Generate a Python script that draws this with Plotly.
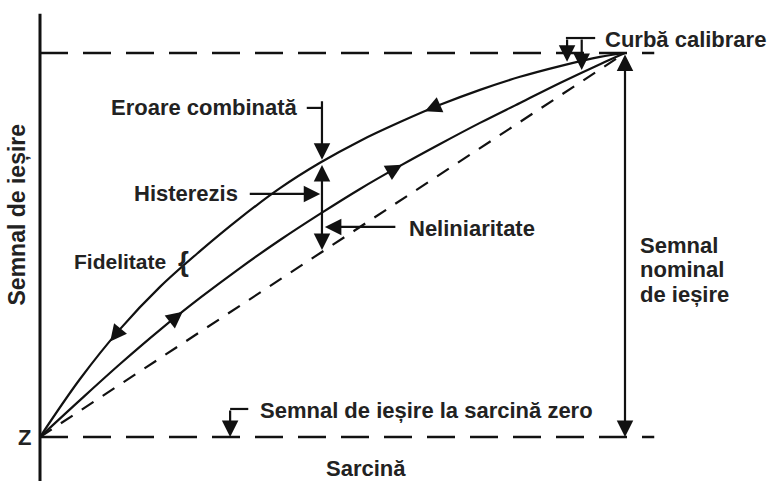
import plotly.graph_objects as go

# --- Data (normalised: load fraction, output fraction) ---
load_grid = [0.0, 0.0684, 0.1368, 0.2051, 0.2735, 0.3419, 0.4103, 0.4786,
             0.5470, 0.6154, 0.6838, 0.7521, 0.8205, 0.8889, 0.9573, 1.0]
# loading (ascending) branch
out_up = [0.0, 0.096, 0.190, 0.279, 0.362, 0.440, 0.513, 0.581,
          0.646, 0.706, 0.763, 0.818, 0.870, 0.922, 0.971, 1.0]
# unloading (descending) branch
out_down = [0.0, 0.151, 0.281, 0.391, 0.484, 0.570, 0.648, 0.714,
            0.771, 0.820, 0.865, 0.904, 0.938, 0.966, 0.990, 1.0]

load_lin = [0.0, 1.0]
out_lin = [0.0, 1.0]

ref_x = [0.0, 1.05]
zero_y = [0.0, 0.0]
full_y = [1.0, 1.0]

FONT = "Liberation Sans, Arial, sans-serif"
TXT = "#222222"
INK = "#111111"

fig = go.Figure()

# reference dashed lines
fig.add_trace(go.Scatter(x=ref_x, y=full_y, mode="lines",
                         line=dict(color=INK, width=2.5, dash="28px,15px")))
fig.add_trace(go.Scatter(x=ref_x, y=zero_y, mode="lines",
                         line=dict(color=INK, width=2.5, dash="28px,15px")))
fig.add_trace(go.Scatter(x=load_lin, y=out_lin, mode="lines",
                         line=dict(color=INK, width=2.2, dash="14px,11px")))
# calibration curves
fig.add_trace(go.Scatter(x=load_grid, y=out_up, mode="lines",
                         line=dict(color=INK, width=2.2, shape="spline", smoothing=1.0)))
fig.add_trace(go.Scatter(x=load_grid, y=out_down, mode="lines",
                         line=dict(color=INK, width=2.2, shape="spline", smoothing=1.0)))

shapes = []
def seg(x0, y0, x1, y1, w=2.2):
    shapes.append(dict(type="line", xref="x", yref="y", x0=x0, y0=y0, x1=x1, y1=y1,
                       line=dict(color=INK, width=w)))

# vertical axis line
seg(0.0, -0.13, 0.0, 1.102, w=3)
# leaders
seg(0.456, 0.857, 0.482, 0.857)        # Eroare combinata
seg(0.899, 1.039, 0.949, 1.039)        # Curba calibrare
seg(0.325, 0.073, 0.356, 0.073)        # Semnal zero

ann = []
def arrow(x, y, ax, ay, both=False):
    ann.append(dict(x=x, y=y, ax=ax, ay=ay, xref="x", yref="y", axref="x", ayref="y",
                    text="", showarrow=True, arrowhead=2, arrowsize=1.5, arrowwidth=2.2,
                    arrowcolor=INK, standoff=0, startstandoff=0,
                    arrowside="end+start" if both else "end",
                    startarrowhead=2, startarrowsize=1.5))

# direction arrows on curves
arrow(0.120, 0.249, 0.1368, 0.281)
arrow(0.658, 0.848, 0.682, 0.864)
arrow(0.244, 0.326, 0.224, 0.302)
arrow(0.619, 0.709, 0.595, 0.688)
# explanatory arrows
arrow(0.482, 0.722, 0.482, 0.878)             # Eroare combinata
arrow(0.482, 0.487, 0.482, 0.712, both=True)  # error span
arrow(0.479, 0.633, 0.356, 0.633)             # Histerezis
arrow(0.487, 0.547, 0.610, 0.547)             # Neliniaritate
arrow(0.901, 0.977, 0.901, 1.039)             # Curba calibrare 1
arrow(0.926, 0.956, 0.926, 1.039)             # Curba calibrare 2
arrow(0.325, 0.0, 0.325, 0.073)               # zero signal
arrow(1.0, 0.0, 1.0, 1.0, both=True)          # nominal output

def label(text, x, y, xanchor="left", size=22, angle=0, weight="bold"):
    ann.append(dict(x=x, y=y, xref="x", yref="y", text=text, showarrow=False,
                    xanchor=xanchor, yanchor="middle", textangle=angle,
                    font=dict(family=FONT, size=size, color=TXT, weight=weight)))

label("Eroare combinată", 0.444, 0.857, "right")
label("Histerezis", 0.342, 0.633, "right")
label("Fidelitate", 0.219, 0.456, "right", size=21)
label("{", 0.246, 0.456, "center", size=28, weight="bold")
label("Neliniaritate", 0.627, 0.542, "left")
label("Curbă calibrare", 0.962, 1.034, "left")
label("Semnal", 1.022, 0.500, "left")
label("nominal", 1.022, 0.435, "left")
label("de ieșire", 1.022, 0.370, "left")
label("Semnal de ieșire la sarcină zero", 0.373, 0.070, "left")
label("Sarcină", 0.557, -0.081, "center")
label("Z", -0.026, 0.0, "center")
label("Semnal de ieșire", -0.039, 0.58, "center", size=23, angle=-90)

fig.update_layout(
    width=768, height=481,
    margin=dict(l=0, r=0, t=0, b=0),
    paper_bgcolor="white", plot_bgcolor="white",
    showlegend=False, hovermode=False,
    xaxis=dict(range=[-0.06838, 1.24444], visible=False, fixedrange=True),
    yaxis=dict(range=[-0.11458, 1.13802], visible=False, fixedrange=True),
    shapes=shapes, annotations=ann,
)

# remove the default 8px page margin so the figure fills the window exactly
fig.write_html("out.html", config={"displayModeBar": False},
               post_script="document.body.style.margin='0';document.body.style.overflow='hidden';")
